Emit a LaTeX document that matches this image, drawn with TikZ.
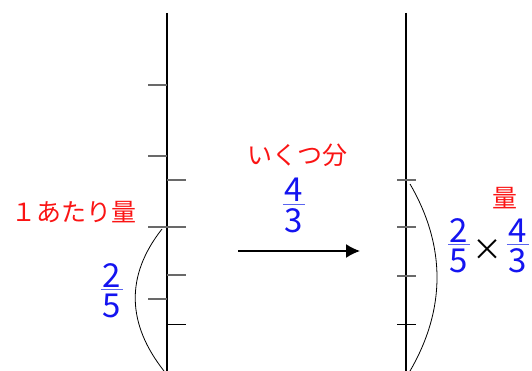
\documentclass[tikz,border=0pt]{standalone}
\usepackage{fontspec}
\setmainfont{Noto Sans CJK JP}
\usetikzlibrary{arrows.meta,positioning}
\definecolor{Red}{RGB}{250,20,20}
\definecolor{Blue}{RGB}{20,20,240}
\definecolor{BarBlue}{RGB}{90,100,240}
\definecolor{TickGray}{RGB}{105,105,105}
\newcommand{\frc}[2]{\begin{tabular}{@{\kern2pt}c@{\kern2pt}}#1\\\noalign{\vskip-9pt{\color{BarBlue}\hrule height1.4pt}\vskip2pt}#2\end{tabular}}
\tikzset{
  axis/.style={line width=2pt,draw=black},
  tick/.style={line width=1.4pt,draw=TickGray},
  lasttick/.style={line width=1pt,draw=black},
  span/.style={line width=0.8pt,draw=black},
  redlabel/.style={inner sep=0pt,text=Red,font=\fontsize{25}{28}\selectfont},
  fraction/.style={inner sep=0pt,text=Blue,font=\fontsize{33}{36}\selectfont},
  flow/.style={-{Latex[length=14pt,width=14pt]},line width=1.6pt,draw=black}
}

\begin{document}
\begin{tikzpicture}[x=1pt,y=-1pt]
\useasboundingbox (0,0) rectangle (532,371);
% left number line
\draw[axis] (167,13) -- (167,371);
\foreach \y in {85,156,227,299} \draw[tick] (148,\y) -- (167,\y);
\foreach \y in {180,227,275} \draw[tick] (167,\y) -- (186,\y);
\draw[lasttick] (167,324) -- (186,324);
\draw[span] (162,229) .. controls (125,276) and (127,324) .. (164,371);
% right number line
\draw[axis] (406,13) -- (406,371);
\foreach \y in {180,227,276} \draw[tick] (397,\y) -- (416,\y);
\draw[lasttick] (397,324) -- (416,324);
\draw[span] (410,184) .. controls (446,246) and (446,309) .. (410,371);
% labels
\node[redlabel] (unitlabel) at (74,212) {１あたり量};
\node[fraction] (unitfrac) at (112,295) {\frc{2}{5}};
\node[redlabel] (countlabel) at (297,155) {いくつ分};
\node[fraction] (countfrac) at (294,210) {\frc{4}{3}};
\node[redlabel] (amountlabel) at (505,198) {量};
\node[fraction] (prodA) at (459,250) {\frc{2}{5}};
\node[inner sep=0pt,font=\fontsize{30}{34}\selectfont] (times) at (487,250) {×};
\node[fraction] (prodB) at (518,250) {\frc{4}{3}};
% arrow
\coordinate (arrowstart) at (238,251);
\coordinate (arrowend) at (360,251);
\draw[flow] (arrowstart) -- (arrowend);
\end{tikzpicture}
\end{document}
